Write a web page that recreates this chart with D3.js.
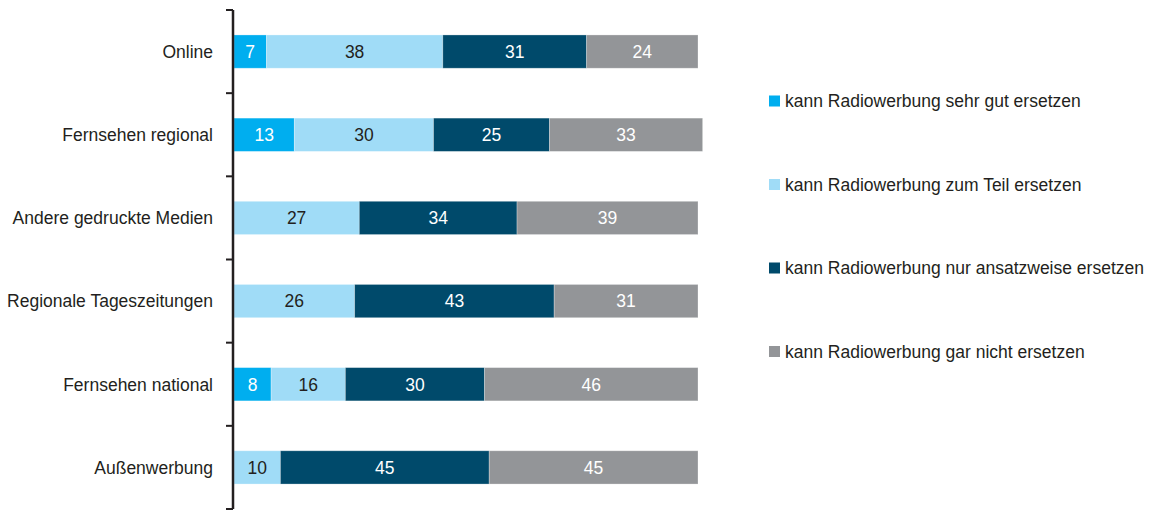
<!DOCTYPE html>
<html>
<head>
<meta charset="utf-8">
<script src="https://cdn.jsdelivr.net/npm/d3@7"></script>
<style>
  html, body { margin: 0; padding: 0; background: #fff; }
  svg text { font-family: "Liberation Sans", Arial, sans-serif; }
</style>
</head>
<body>
<svg id="chart" width="1149" height="511"></svg>
<script>
// Media categories (top to bottom)
const categories = [
  "Online",
  "Fernsehen regional",
  "Andere gedruckte Medien",
  "Regionale Tageszeitungen",
  "Fernsehen national",
  "Außenwerbung"
];

// Answer series (share in %)
const seriesNames = [
  "kann Radiowerbung sehr gut ersetzen",
  "kann Radiowerbung zum Teil ersetzen",
  "kann Radiowerbung nur ansatzweise ersetzen",
  "kann Radiowerbung gar nicht ersetzen"
];
const sehrGut      = [7, 13, 0, 0, 8, 0];
const zumTeil      = [38, 30, 27, 26, 16, 10];
const ansatzweise  = [31, 25, 34, 43, 30, 45];
const garNicht     = [24, 33, 39, 31, 46, 45];

const seriesColors = ["#00aeef", "#a0dcf7", "#004a6b", "#939598"];
const labelColors  = ["#ffffff", "#231f20", "#ffffff", "#ffffff"];

const fontSize = 17.5;

const rows = categories.map((c, i) => ({
  cat: c,
  s0: sehrGut[i], s1: zumTeil[i], s2: ansatzweise[i], s3: garNicht[i]
}));
const stack = d3.stack().keys(["s0", "s1", "s2", "s3"])(rows);

const svg = d3.select("#chart");
const axisX = 233;

const x = d3.scaleLinear().domain([0, 100]).range([axisX + 1, 698]);
const y = d3.scaleBand().domain(categories).range([10, 509]).paddingInner(0.6).paddingOuter(0.3);

// Band boundaries for the tick marks
const yBounds = d3.scaleLinear().domain([0, categories.length]).range([10, 509]);

// Bars
const g = svg.append("g");
stack.forEach((layer, k) => {
  g.selectAll(null)
    .data(layer.filter(d => d[1] - d[0] > 0))
    .join("rect")
    .attr("x", d => x(d[0]))
    .attr("y", d => y(d.data.cat))
    .attr("width", d => x(d[1]) - x(d[0]))
    .attr("height", y.bandwidth())
    .attr("fill", seriesColors[k])
    .attr("stroke", "#ffffff")
    .attr("stroke-opacity", 0.35)
    .attr("stroke-width", 0.8);

  g.selectAll(null)
    .data(layer.filter(d => d[1] - d[0] > 0))
    .join("text")
    .attr("x", d => (x(d[0]) + x(d[1])) / 2)
    .attr("y", d => y(d.data.cat) + y.bandwidth() / 2)
    .attr("dy", "0.36em")
    .attr("text-anchor", "middle")
    .attr("font-size", fontSize)
    .attr("fill", labelColors[k])
    .text(d => d[1] - d[0]);
});

// Vertical axis with outward ticks at band boundaries
const axisG = svg.append("g");
axisG.append("line")
  .attr("x1", axisX).attr("x2", axisX)
  .attr("y1", yBounds(0)).attr("y2", yBounds(categories.length))
  .attr("stroke", "#231f20").attr("stroke-width", 2.5);
axisG.selectAll(null)
  .data(d3.range(categories.length + 1))
  .join("line")
  .attr("x1", axisX - 7).attr("x2", axisX)
  .attr("y1", d => yBounds(d)).attr("y2", d => yBounds(d))
  .attr("stroke", "#231f20").attr("stroke-width", 2);

// Category labels
svg.append("g").selectAll("text")
  .data(categories)
  .join("text")
  .attr("x", 213)
  .attr("y", d => y(d) + y.bandwidth() / 2)
  .attr("dy", "0.36em")
  .attr("text-anchor", "end")
  .attr("font-size", fontSize)
  .attr("fill", "#231f20")
  .text(d => d);

// Legend
const legendY = d3.scaleLinear().domain([0, 1]).range([101, 184.5]);
const legend = svg.append("g").selectAll("g")
  .data(seriesNames)
  .join("g")
  .attr("transform", (d, i) => `translate(769, ${legendY(i)})`);
legend.append("rect")
  .attr("x", 0).attr("y", -5.5)
  .attr("width", 11).attr("height", 11)
  .attr("fill", (d, i) => seriesColors[i]);
legend.append("text")
  .attr("x", 16)
  .attr("dy", "0.36em")
  .attr("font-size", fontSize)
  .attr("fill", "#231f20")
  .text(d => d);
</script>
</body>
</html>
